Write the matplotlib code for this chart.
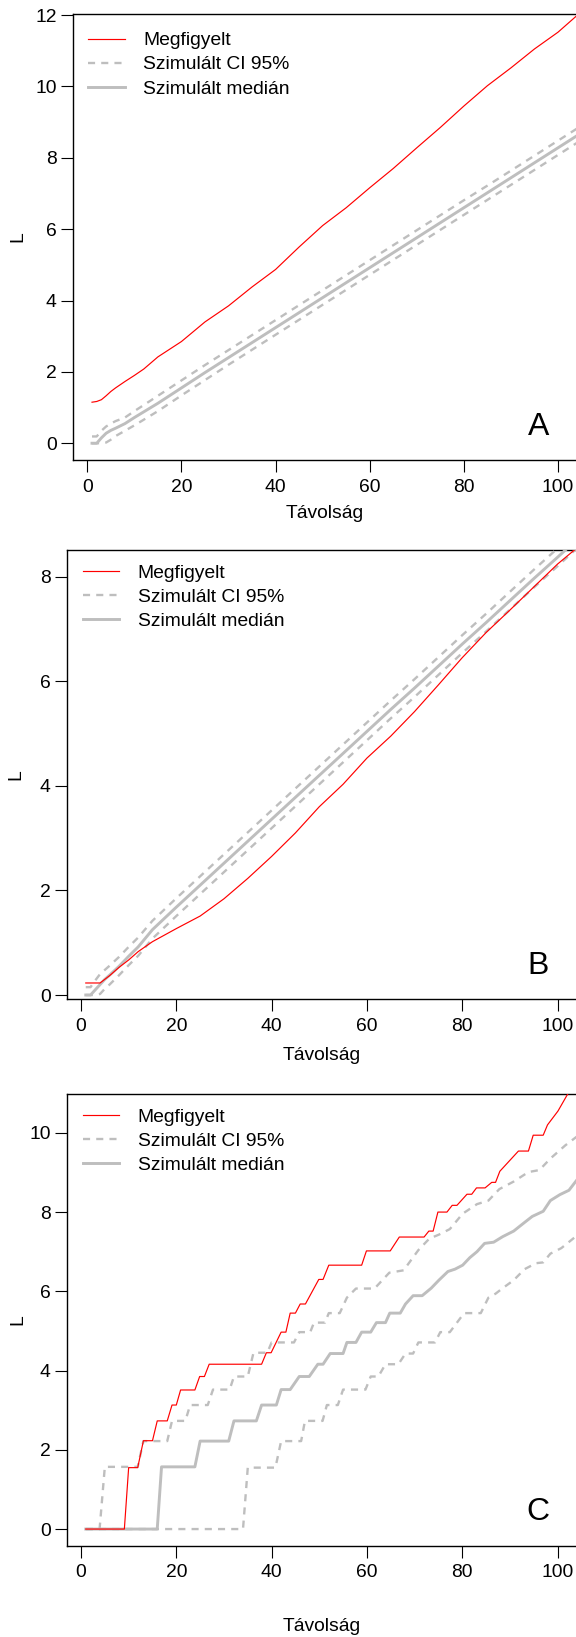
import matplotlib
matplotlib.use("Agg")
import matplotlib.pyplot as plt

plt.rcParams['font.family'] = ['Liberation Sans', 'DejaVu Sans']

# ---------------- data ----------------
# Panel A
xA = [1, 2, 3, 4, 5, 6, 8, 10, 12, 15, 20, 25, 30, 35, 40, 45, 50, 55, 60, 65, 70, 75, 80, 85, 90, 95, 100, 105]
obsA = [1.15, 1.17, 1.22, 1.33, 1.45, 1.55, 1.73, 1.90, 2.08, 2.42, 2.85, 3.40, 3.85, 4.38, 4.87, 5.50, 6.10, 6.60,
        7.16, 7.70, 8.28, 8.85, 9.45, 10.02, 10.52, 11.05, 11.52, 12.10]
medA = [0.0, 0.0, 0.15, 0.28, 0.36, 0.42, 0.55, 0.72, 0.88, 1.12, 1.55, 1.98, 2.40, 2.82, 3.24, 3.66, 4.08, 4.50,
        4.92, 5.34, 5.76, 6.18, 6.60, 7.02, 7.44, 7.86, 8.28, 8.70]
hiA = [0.19, 0.19, 0.35, 0.47, 0.55, 0.62, 0.72, 0.90, 1.07, 1.33, 1.76, 2.19, 2.61, 3.03, 3.45, 3.87, 4.29, 4.71,
       5.13, 5.55, 5.97, 6.39, 6.81, 7.22, 7.64, 8.06, 8.48, 8.90]
loA = [0.0, 0.0, 0.0, 0.02, 0.10, 0.20, 0.35, 0.50, 0.66, 0.90, 1.34, 1.77, 2.20, 2.62, 3.04, 3.46, 3.88, 4.30,
       4.72, 5.14, 5.56, 5.98, 6.40, 6.82, 7.24, 7.66, 8.08, 8.50]

# Panel B
xB = [1, 2, 3, 4, 5, 6, 8, 10, 12, 15, 20, 25, 30, 35, 40, 45, 50, 55, 60, 65, 70, 75, 80, 85, 90, 95, 100, 105]
obsB = [0.23, 0.23, 0.23, 0.23, 0.30, 0.37, 0.53, 0.67, 0.83, 1.02, 1.27, 1.51, 1.84, 2.23, 2.65, 3.10, 3.60, 4.03,
        4.53, 4.95, 5.42, 5.93, 6.45, 6.93, 7.36, 7.80, 8.24, 8.62]
medB = [0.0, 0.0, 0.10, 0.20, 0.30, 0.38, 0.55, 0.74, 0.92, 1.25, 1.68, 2.10, 2.52, 2.94, 3.36, 3.78, 4.20, 4.62,
        5.04, 5.46, 5.87, 6.29, 6.71, 7.12, 7.54, 7.96, 8.37, 8.79]
hiB = [0.15, 0.15, 0.28, 0.40, 0.48, 0.56, 0.73, 0.92, 1.10, 1.42, 1.85, 2.27, 2.69, 3.11, 3.53, 3.95, 4.37, 4.79,
       5.21, 5.63, 6.04, 6.46, 6.88, 7.29, 7.71, 8.13, 8.54, 8.96]
loB = [0.0, 0.0, 0.0, 0.02, 0.12, 0.20, 0.38, 0.57, 0.75, 1.08, 1.51, 1.93, 2.35, 2.77, 3.19, 3.61, 4.03, 4.45,
       4.87, 5.29, 5.70, 6.12, 6.54, 6.95, 7.37, 7.79, 8.20, 8.62]

# Panel C (step-like curves, vertices)
xC_obs = [1, 9.1, 10, 11.9, 13.1, 15, 16, 18.1, 19.1, 20, 20.9, 23.9, 24.9, 25.9, 26.9, 37.9, 38.9, 39.9, 42, 43,
          43.9, 45, 46, 47.1, 49.9, 50.8, 52, 58.9, 59.9, 64.9, 66.8, 72, 73, 73.9, 74.9, 76.8, 77.9, 78.9, 81, 82,
          83, 84.8, 86.2, 87, 87.9, 91.8, 93.9, 94.9, 97, 97.9, 100.1, 102, 104]
yC_obs = [0, 0, 1.55, 1.55, 2.23, 2.23, 2.73, 2.73, 3.13, 3.13, 3.51, 3.51, 3.85, 3.85, 4.16, 4.16, 4.45, 4.45, 4.97,
          4.97, 5.45, 5.45, 5.68, 5.68, 6.30, 6.30, 6.66, 6.66, 7.02, 7.02, 7.37, 7.37, 7.52, 7.52, 8.00, 8.00, 8.17,
          8.17, 8.45, 8.45, 8.61, 8.61, 8.75, 8.75, 9.03, 9.54, 9.54, 9.94, 9.94, 10.20, 10.55, 10.95, 11.30]

xC_hi = [1, 3.9, 5, 11.9, 13.1, 18.1, 19.1, 21.9, 22.9, 26.6, 27.7, 31.2, 32.1, 35, 36.2, 39.1, 40, 44.7, 45.8,
         48.1, 48.9, 51.2, 52, 54.3, 55.8, 57.7, 61.6, 64.7, 67.7, 70.8, 73.1, 75.1, 77.4, 80.1, 83.1, 85.5, 87.8,
         90.8, 93.9, 96.2, 98.5, 101.6, 104]
yC_hi = [0, 0, 1.57, 1.57, 2.22, 2.22, 2.73, 2.73, 3.13, 3.13, 3.52, 3.52, 3.85, 3.85, 4.45, 4.45, 4.71, 4.71, 4.97,
         4.97, 5.21, 5.21, 5.45, 5.45, 5.84, 6.07, 6.07, 6.47, 6.53, 7.04, 7.33, 7.43, 7.57, 7.96, 8.20, 8.29, 8.58,
         8.77, 9.01, 9.06, 9.35, 9.68, 9.90]

xC_med = [1, 16, 16.9, 23.9, 25, 31, 32.1, 36.8, 37.9, 41, 42, 43.9, 45.8, 47.9, 49.7, 50.8, 52.3, 55, 55.8, 57.7,
          58.9, 60.8, 62, 63.9, 64.8, 67, 68.1, 69.7, 71.6, 73.5, 75.1, 77, 78.5, 80.1, 81.6, 83.1, 84.7, 86.6,
          88.5, 90.8, 93.1, 94.7, 97, 98.5, 100.5, 102.4, 104]
yC_med = [0, 0, 1.57, 1.57, 2.22, 2.22, 2.73, 2.73, 3.13, 3.13, 3.52, 3.52, 3.85, 3.85, 4.16, 4.16, 4.43, 4.43,
          4.71, 4.71, 4.97, 4.97, 5.21, 5.21, 5.45, 5.45, 5.68, 5.89, 5.89, 6.08, 6.28, 6.50, 6.56, 6.66, 6.85,
          7.00, 7.21, 7.24, 7.38, 7.52, 7.74, 7.89, 8.02, 8.29, 8.44, 8.55, 8.80]

xC_lo = [1, 34, 35, 40.8, 42, 46.2, 47, 50.7, 51.6, 53.9, 55, 59.7, 60.8, 62.4, 63.9, 66.6, 68.1, 69.7, 70.8, 74.3,
         75.4, 77.4, 78.9, 80.4, 83.9, 85.5, 87, 88.5, 90.8, 93.1, 95.5, 97, 98.5, 100.8, 104]
yC_lo = [0, 0, 1.55, 1.55, 2.22, 2.22, 2.73, 2.73, 3.13, 3.13, 3.52, 3.52, 3.85, 3.85, 4.16, 4.16, 4.43, 4.43,
         4.71, 4.71, 4.97, 4.97, 5.21, 5.45, 5.45, 5.84, 5.94, 6.08, 6.28, 6.56, 6.71, 6.73, 6.95, 7.09, 7.40]

labels = ["Megfigyelt", "Szimulált CI 95%", "Szimulált medián"]
panel_letters = ["A", "B", "C"]
xticks = [0, 20, 40, 60, 80, 100]

# ---------------- figure ----------------
W, H = 576, 1637
fig = plt.figure(figsize=(W / 100, H / 100), dpi=100)

RED = "#FF0000"
GRAY = "#BEBEBE"
FS = 13.9


def make_axes(left_px, top_px, bottom_px, right_px=577.5):
    return fig.add_axes([left_px / W, 1 - bottom_px / H, (right_px - left_px) / W, (bottom_px - top_px) / H])


def draw(ax, x_o, y_o, x_hi, y_hi, x_med, y_med, x_lo, y_lo, xlim, ylim, yticks, letter, xlab_y, leg_y):
    l1, = ax.plot(x_o, y_o, color=RED, lw=0.85, zorder=4)
    l2, = ax.plot(x_hi, y_hi, color=GRAY, lw=1.7, dashes=(3, 2.6), zorder=3)
    ax.plot(x_lo, y_lo, color=GRAY, lw=1.7, dashes=(3, 2.6), zorder=3)
    l3, = ax.plot(x_med, y_med, color=GRAY, lw=2.1, zorder=3)
    ax.set_xlim(*xlim)
    ax.set_ylim(*ylim)
    ax.set_xticks(xticks)
    ax.set_yticks(yticks)
    ax.tick_params(direction='out', length=8.5, width=0.8, labelsize=FS, colors='black')
    ax.tick_params(axis='y', pad=3)
    ax.tick_params(axis='x', pad=5)
    for s in ax.spines.values():
        s.set_linewidth(1.0)
    ax.spines['right'].set_visible(False)
    ax.set_xlabel("Távolság", fontsize=FS)
    ax.set_ylabel("L", fontsize=FS)
    ax.xaxis.set_label_coords(0.5, xlab_y)
    ax.xaxis.label.set_va('center')
    ax.yaxis.label.set_va('center')
    ax.legend([l1, l2, l3], labels, loc='upper left', bbox_to_anchor=(0.031, leg_y), frameon=False,
              fontsize=FS, handlelength=1.9, handletextpad=0.95, labelspacing=0.34, borderpad=0,
              borderaxespad=0)
    ax.text(0.922, 0.075, letter, transform=ax.transAxes, fontsize=23, ha='center', va='center')
    return ax


# Panel A
axA = make_axes(72.7, 14, 460)
x0A, pA = 87.3, 4.707
draw(axA, xA, obsA, xA, hiA, xA, medA, xA, loA,
     ((72.7 - x0A) / pA, (577.5 - x0A) / pA), (-0.47, 12.03), [0, 2, 4, 6, 8, 10, 12], "A", -0.119, 0.96)
axA.yaxis.set_label_coords((18 - 72.7) / 504.8, 0.5)

# Panel B
axB = make_axes(66.7, 550, 999.3)
x0B, pB = 81.0, 4.765
draw(axB, xB, obsB, xB, hiB, xB, medB, xB, loB,
     ((66.7 - x0B) / pB, (577.5 - x0B) / pB), (-0.082, 8.51), [0, 2, 4, 6, 8], "B", -0.125, 0.968)
axB.yaxis.set_label_coords((16 - 66.7) / 510.8, 0.5)

# Panel C
axC = make_axes(66.7, 1094, 1545.7)
draw(axC, xC_obs, yC_obs, xC_hi, yC_hi, xC_med, yC_med, xC_lo, yC_lo,
     ((66.7 - x0B) / pB, (577.5 - x0B) / pB), (-0.42, 10.98), [0, 2, 4, 6, 8, 10], "C", -0.178, 0.968)
axC.yaxis.set_label_coords((18 - 66.7) / 510.8, 0.5)

fig.savefig("out.png", dpi=100)
